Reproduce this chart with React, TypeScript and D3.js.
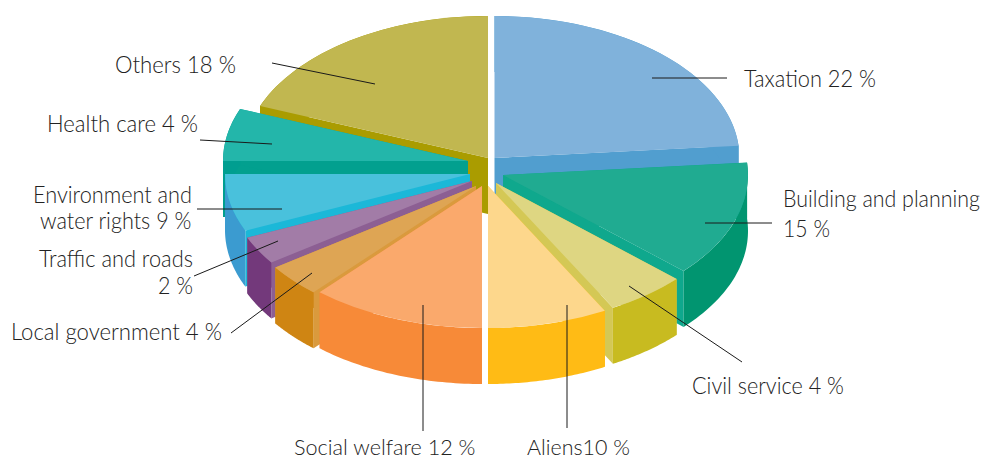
import React from "react";
import * as d3 from "d3";

// Data
const categories = ["Taxation","Building and planning","Civil service","Aliens","Social welfare","Local government","Traffic and roads","Environment and water rights","Health care","Others"];
const percentLabels = [22,15,4,10,12,4,2,9,4,18];
// Apparent sweep of each slice in the drawing, in degrees, clockwise from 12 o'clock
const drawnSweep = [85,47.5,19,28.5,41.5,13.5,11.5,23.5,21.5,68.5];

// Styles
const topColors = ["#80b2db","#20ab91","#ded682","#fdd78c","#faa96c","#dea554","#a27ca7","#49c1dc","#23b6aa","#c1b750"];
const wallColors = ["#519ecf","#019570","#c8bb20","#ffbb15","#f78a38","#cf8513","#73397b","#3b9bd0","#009e90","#aa9c00"];
const faceColors = ["#519ecf","#0fa88d","#d4c855","#ffbb15","#f78a38","#da9a3d","#8c5f93","#1bb8d8","#02a08f","#aa9c00"];

// Layout: exploded apex of each slice, back-to-front painting order
const apexX = [494.5,503,496,488,482,476,472,470,468,488];
const apexY = [158,175,183,186,186,186,181,174,161,158];
const paintOrder = [9,0,8,1,7,2,6,5,3,4];
const RX = 245, RY = 142, DEPTH = 56;

const labelLines: string[][] = [
  ["Taxation 22 %"],
  ["Building and planning","15 %"],
  ["Civil service 4 %"],
  ["Aliens10 %"],
  ["Social welfare 12 %"],
  ["Local government 4 %"],
  ["Traffic and roads","2 %"],
  ["Environment and","water rights 9 %"],
  ["Health care 4 %"],
  ["Others 18 %"],
];
const labelX: number[][] = [[744],[783,783],[692],[527],[294],[11],[39,158],[33,40],[47],[115]];
const labelY: number[][] = [[87],[207,237],[394],[454.5],[454.5],[340],[267,294],[203,229],[132],[73]];
const labelW: number[][] = [[132],[197,47],[152],[103],[182],[211],[154,35],[159,152],[151],[121]];
const labelSize = [23,23,23,22,22,23,23,23,23,23];

const leaders: number[][] = [
  [652,78,727,78],[705,223,772,223],[629,286,742,362],[567,305,567,428],[423,305,423,431],
  [231,333,312,273],[194,276,278,241],[197,209,282,209],[200,140,272,144],[272,63,375,84],
];

const pie = d3.pie<number>().sort(null).value(d => d);
const arcs = pie(drawnSweep);
const topArc = d3.arc<d3.PieArcDatum<number>>().innerRadius(0).outerRadius(1);
const line = d3.line<[number,number]>();

function point(i:number,t:number,dy=0):[number,number]{
  return [apexX[i]+RX*Math.sin(t), apexY[i]-RY*Math.cos(t)+dy];
}
function wallPath(i:number,a:number,b:number){
  const ts = d3.range(0,41).map(k=>a+(b-a)*k/40);
  const pts = [...ts.map(t=>point(i,t)),...ts.slice().reverse().map(t=>point(i,t,DEPTH))];
  return line(pts)+"Z";
}
function facePath(i:number,t:number){
  const o:[number,number]=[apexX[i],apexY[i]];
  const o2:[number,number]=[apexX[i],apexY[i]+DEPTH];
  return line([o,point(i,t),point(i,t,DEPTH),o2])+"Z";
}
const measureCtx = document.createElement("canvas").getContext("2d")!;
function fitScale(s:string,size:number,w:number){
  measureCtx.font = `300 ${size}px Lato`;
  return w/measureCtx.measureText(s).width;
}

export default function App(){
  return (
    <svg width={983} height={459} viewBox="0 0 983 459" style={{position:"absolute",left:0,top:0,display:"block"}}>
      {paintOrder.map(i=>{
        const d=arcs[i];
        return (
          <g key={categories[i]}>
            <path d={facePath(i,d.startAngle)} fill={faceColors[i]}/>
            <path d={facePath(i,d.endAngle)} fill={faceColors[i]}/>
            <path d={wallPath(i,d.startAngle,d.endAngle)} fill={wallColors[i]}/>
            <path d={topArc(d)!} transform={`translate(${apexX[i]},${apexY[i]}) scale(${RX},${RY})`} fill={topColors[i]}/>
          </g>
        );
      })}
      {leaders.map((l,i)=>(
        <line key={i} x1={l[0]} y1={l[1]} x2={l[2]} y2={l[3]} stroke="#1a1a1a" strokeWidth={1}/>
      ))}
      {labelLines.map((lines,i)=>lines.map((s,j)=>(
        <text key={s} transform={`translate(${labelX[i][j]},${labelY[i][j]}) scale(${fitScale(s,labelSize[i],labelW[i][j])},1)`}
          fontFamily="Lato" fontWeight={300} fontSize={labelSize[i]} fill="#222">{s}</text>
      )))}
    </svg>
  );
}
